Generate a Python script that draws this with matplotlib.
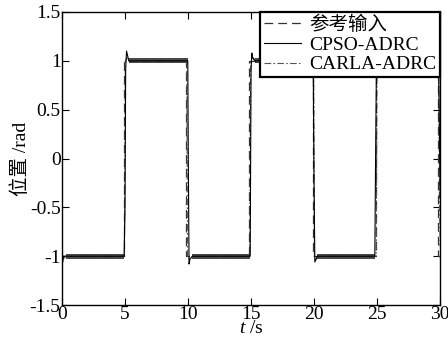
import matplotlib
matplotlib.use("Agg")
import matplotlib.pyplot as plt

plt.rcParams['font.family'] = ['Liberation Serif', 'Noto Sans CJK SC']
plt.rcParams['axes.unicode_minus'] = False
plt.rcParams['mathtext.fontset'] = 'custom'
plt.rcParams['mathtext.it'] = 'Liberation Serif:italic'

# Reference input (square wave)
ref_t = [0, 4.9, 4.9, 9.85, 9.85, 14.85, 14.85, 19.95, 19.95, 24.95, 24.95, 29.85, 29.85, 30]
ref_y = [-1, -1, 1, 1, -1, -1, 1, 1, -1, -1, 1, 1, -1, -1]

# CPSO-ADRC response
cpso_t = [0, 0.05, 0.12, 0.3, 4.93, 4.97, 5.0, 5.05, 5.12, 5.3,
          9.98, 10.02, 10.08, 10.15, 10.35,
          14.93, 15.0, 15.06, 15.12, 15.3,
          19.93, 19.98, 20.06, 20.25,
          24.82, 24.88, 24.95, 25.05, 25.2,
          29.88, 29.95, 30]
cpso_y = [-0.8, -1.06, -1.0, -1.0, -1.0, -0.7, -0.5, 0.9, 1.1, 1.0,
          1.0, 0.0, -1.08, -1.03, -1.0,
          -1.0, 0.9, 1.08, 1.03, 1.0,
          1.0, 0.0, -1.06, -1.0,
          -1.0, 0.0, 0.98, 1.0, 1.0,
          1.0, 0.2, -0.4]

# CARLA-ADRC response
carla_t = [0, 0.1, 0.3, 4.95, 5.02, 5.15, 5.4,
           9.9, 9.96, 10.1, 10.4,
           14.9, 14.97, 15.1, 15.4,
           19.97, 20.03, 20.15, 20.4,
           24.93, 25.0, 25.15, 25.4,
           29.88, 29.95, 30]
carla_y = [-0.9, -1.03, -1.0, -1.0, 1.0, 1.03, 1.0,
           1.0, -1.0, -1.03, -1.0,
           -1.0, 1.0, 1.04, 1.0,
           1.0, -1.0, -1.03, -1.0,
           -1.0, 1.0, 1.02, 1.0,
           1.0, -0.5, -0.9]

# Chatter bands of the responses in steady state
band_start = [0.3, 5.3, 10.35, 15.3, 20.25, 25.2]
band_end = [4.93, 9.98, 14.93, 19.93, 24.82, 29.88]
band_level = [-1.0, 1.0, -1.0, 1.0, -1.0, 1.0]
band_half = 0.025

fig = plt.figure(figsize=(4.48, 3.42), dpi=100)
ax = fig.add_axes([0.1384, 0.108, 0.844, 0.857])

for s, e, lv in zip(band_start, band_end, band_level):
    ax.fill_between([s, e], [lv - band_half] * 2, [lv + band_half] * 2,
                    color='#4a4a4a', linewidth=0, zorder=2)

ax.plot(ref_t, ref_y, color='#333333', linestyle=(0, (7, 4)), linewidth=0.9,
        label='参考输入', zorder=3)
ax.plot(cpso_t, cpso_y, color='black', linestyle='-', linewidth=0.8,
        label='CPSO-ADRC', zorder=4)
ax.plot(carla_t, carla_y, color='#555555', linestyle=(0, (6, 2, 1.5, 2)), linewidth=0.8,
        label='CARLA-ADRC', zorder=3)

ax.set_xlim(0, 30)
ax.set_ylim(-1.5, 1.5)
ax.set_xticks([0, 5, 10, 15, 20, 25, 30])
ax.set_xticklabels(['0', '5', '10', '15', '20', '25', '30'])
ax.set_yticks([-1.5, -1, -0.5, 0, 0.5, 1, 1.5])
ax.set_yticklabels(['-1.5', '-1', '-0.5', '0', '0.5', '1', '1.5'])
ax.tick_params(direction='in', length=5, width=0.8, top=True, right=True,
               labelsize=14, pad=1)
for sp in ax.spines.values():
    sp.set_linewidth(1.0)

ax.set_xlabel('$t$ /s', fontsize=14, labelpad=-2.5)
ax.set_ylabel('位置 /rad', fontsize=14, labelpad=0)

leg = ax.legend(loc='upper right', borderaxespad=0, fontsize=14, frameon=True,
                fancybox=False, handlelength=1.9, handletextpad=0.4,
                labelspacing=0.1, borderpad=0.2)
leg.get_frame().set_edgecolor('black')
leg.get_frame().set_linewidth(1.6)
leg.get_frame().set_alpha(1)

fig.savefig('out.png', dpi=100)
